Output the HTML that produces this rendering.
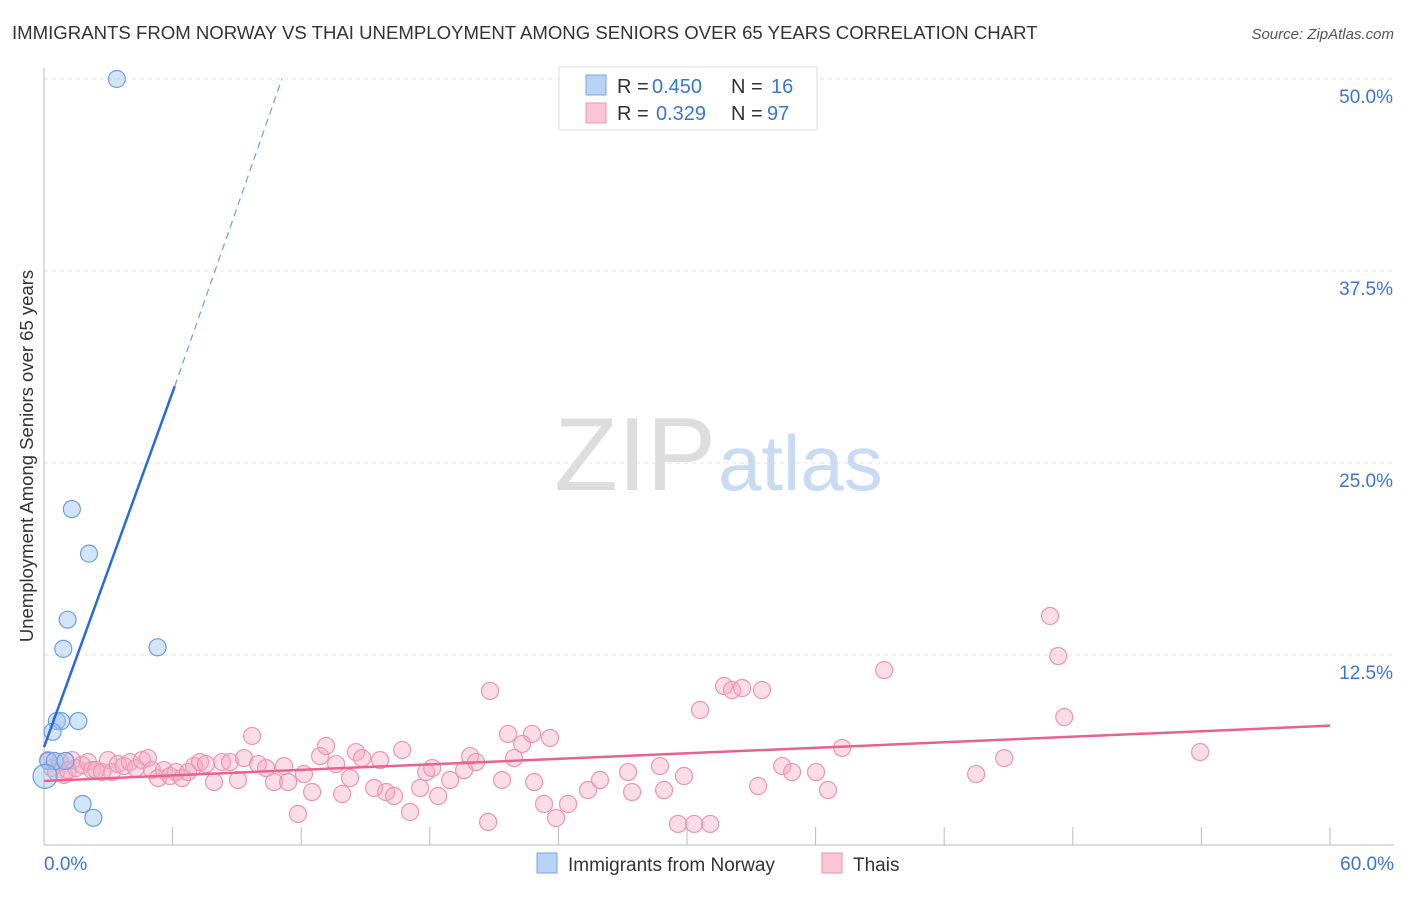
<!DOCTYPE html>
<html><head><meta charset="utf-8"><style>
body{margin:0;background:#fff;font-family:"Liberation Sans",sans-serif;}
svg text{font-family:"Liberation Sans",sans-serif;}
</style></head><body>
<svg width="1406" height="892" xmlns="http://www.w3.org/2000/svg" id="chart">
<text x="12" y="39" font-size="18.6" fill="#333">IMMIGRANTS FROM NORWAY VS THAI UNEMPLOYMENT AMONG SENIORS OVER 65 YEARS CORRELATION CHART</text>
<text x="1394" y="39" font-size="15" fill="#555" text-anchor="end" font-style="italic">Source: ZipAtlas.com</text>
<text x="33" y="456" font-size="18.5" fill="#333" text-anchor="middle" transform="rotate(-90 33 456)">Unemployment Among Seniors over 65 years</text>
<g id="grid"></g>
<g id="axes"></g>
<text x="716" y="490" font-size="104" fill="#ddd" text-anchor="end" font-family="Liberation Serif">ZIP</text>
<text x="718" y="490" font-size="78" fill="#c9dbf2">atlas</text>
<g id="pink"></g>
<g id="blue"></g>
<g id="lines"></g>
<g>
<rect x="559" y="67" width="258" height="63" fill="#fff" stroke="#ddd"/>
<rect x="586" y="75" width="20" height="20" fill="#b8d3f5" stroke="#7aa7e0"/>
<rect x="586" y="103" width="20" height="20" fill="#f9c6d6" stroke="#ee93b2"/>
<text x="617" y="93" font-size="20" fill="#333">R = </text><text x="652" y="93" font-size="20" fill="#3a75d0">0.450</text>
<text x="731" y="93" font-size="20" fill="#333">N = </text><text x="771" y="93" font-size="20" fill="#3a75d0">16</text>
<text x="617" y="120" font-size="20" fill="#333">R = </text><text x="656" y="120" font-size="20" fill="#3a75d0">0.329</text>
<text x="731" y="120" font-size="20" fill="#333">N = </text><text x="767" y="120" font-size="20" fill="#3a75d0">97</text>
</g>
<g>
<rect x="537" y="853" width="20" height="20" fill="#b8d3f5" stroke="#7aa7e0"/>
<text x="568" y="871" font-size="19" fill="#333">Immigrants from Norway</text>
<rect x="822" y="853" width="20" height="20" fill="#f9c6d6" stroke="#ee93b2"/>
<text x="853" y="871" font-size="19" fill="#333">Thais</text>
</g>
</svg>
<script>
const yTicks=[12.5,25,37.5,50];
const yTickLabels=["12.5%","25.0%","37.5%","50.0%"];
const xEndLabels=["0.0%","60.0%"];
const blueX=[3.4,1.3,2.1,1.1,0.9,5.3,0.6,0.8,1.6,0.4,0.2,0.5,1.8,2.3,0.05,1.0];
const blueY=[50.0,22.0,19.1,14.8,12.9,13.0,8.2,8.2,8.2,7.5,5.6,5.6,2.8,1.9,4.6,5.6];
const pinkX=[0.19,0.37,0.56,0.75,0.93,1.12,1.31,1.49,1.77,2.05,2.24,2.43,2.71,2.99,3.17,3.45,3.73,4.01,4.29,4.57,4.85,5.04,5.32,5.60,5.88,6.16,6.44,6.72,7.00,7.28,7.56,7.93,8.31,8.68,9.05,9.33,9.71,9.99,10.36,10.73,11.20,11.39,11.85,12.13,12.51,12.88,13.16,13.63,13.91,14.28,14.56,14.84,15.40,15.68,15.96,16.33,16.71,17.08,17.55,17.83,18.11,18.39,18.95,19.60,19.88,20.16,20.72,20.81,21.37,21.65,21.93,22.31,22.77,22.87,23.33,23.61,23.89,24.45,25.38,25.94,27.25,27.44,28.74,28.93,29.58,29.86,30.33,30.61,31.08,31.73,32.10,32.57,33.32,33.50,34.44,34.90,36.02,36.58,37.24,39.20,43.49,44.80,46.94,47.32,47.60,53.94];
const pinkY=[5.66,5.14,4.88,5.53,4.69,5.01,5.66,5.14,5.34,5.53,5.01,5.01,4.88,5.66,4.88,5.40,5.27,5.53,5.14,5.66,5.79,5.01,4.49,5.01,4.62,4.88,4.49,4.88,5.27,5.53,5.40,4.23,5.53,5.53,4.36,5.79,7.23,5.40,5.14,4.23,5.27,4.23,2.15,4.75,3.58,5.92,6.58,5.40,3.45,4.49,6.18,5.79,3.84,5.66,3.58,3.32,6.32,2.28,3.84,4.88,5.14,3.32,4.36,5.01,5.92,5.53,1.63,10.16,4.36,7.36,5.79,6.71,7.36,4.23,2.80,7.10,1.89,2.80,3.71,4.36,4.88,3.58,5.27,3.71,1.50,4.62,1.50,8.92,1.50,10.48,10.22,10.35,3.97,10.22,5.27,4.88,4.88,3.71,6.45,11.52,4.75,5.79,15.04,12.43,8.46,6.18];
const blueLineSolid=[0,6.5,6.1,30.0];
const blueLineDash=[6.1,30.0,11.1,50.0];
const pinkLine=[0,4.3,60,7.9];
const NS="http://www.w3.org/2000/svg";
const X0=44,X1=1330,Y0=847,YS=15.36;
const sx=v=>X0+(X1-X0)*v/60, sy=v=>Y0-v*YS;
function mk(t,a,p){const e=document.createElementNS(NS,t);for(const k in a)e.setAttribute(k,a[k]);p.appendChild(e);return e;}
const grid=document.getElementById('grid'),axes=document.getElementById('axes');
yTicks.forEach((t,i)=>{
 const l=mk('line',{x1:X0,x2:1394,y1:sy(t),y2:sy(t),stroke:'#e3e3e3','stroke-dasharray':'4,4'},grid);
 
 
 const tx=mk('text',{x:1393,y:sy(t)+24,'font-size':19,fill:'#3a75d0','text-anchor':'end'},grid);
 tx.textContent=yTickLabels[i];
 
 
});
mk('line',{x1:X0,x2:X0,y1:68,y2:845,stroke:'#bbb'},axes);
mk('line',{x1:X0,x2:1394,y1:845,y2:845,stroke:'#bbb'},axes);
for(let i=1;i<=10;i++){const x=sx(i*6);mk('line',{x1:x,x2:x,y1:827,y2:845,stroke:'#bbb'},axes);}
const xl0=mk('text',{x:44,y:870,'font-size':19,fill:'#3a75d0'},axes);xl0.textContent=xEndLabels[0];


const xl1=mk('text',{x:1394,y:870,'font-size':19,fill:'#3a75d0','text-anchor':'end'},axes);xl1.textContent=xEndLabels[1];


const pg=document.getElementById('pink'),bg=document.getElementById('blue'),lg=document.getElementById('lines');
pinkX.forEach((v,i)=>{const c=mk('circle',{cx:sx(v),cy:sy(pinkY[i]),r:8.5,fill:'rgba(246,170,195,0.4)',stroke:'#ec94b3','stroke-width':1.2},pg);
 
 });
blueX.forEach((v,i)=>{const c=mk('circle',{cx:sx(v),cy:sy(blueY[i]),r:i==14?12:8.5,fill:'rgba(160,196,240,0.45)',stroke:'#6c9fe0','stroke-width':1.2},bg);
 
 });
const b1=mk('line',{x1:sx(blueLineSolid[0]),y1:sy(blueLineSolid[1]),x2:sx(blueLineSolid[2]),y2:sy(blueLineSolid[3]),stroke:'#2a6ad8','stroke-width':2.5},lg);


const b2=mk('line',{x1:sx(blueLineDash[0]),y1:sy(blueLineDash[1]),x2:sx(blueLineDash[2]),y2:sy(blueLineDash[3]),stroke:'#6c9fe0','stroke-width':1.2,'stroke-dasharray':'7,5'},lg);


const p1=mk('line',{x1:sx(pinkLine[0]),y1:sy(pinkLine[1]),x2:sx(pinkLine[2]),y2:sy(pinkLine[3]),stroke:'#e8628f','stroke-width':2.5},lg);


</script>
</body></html>
